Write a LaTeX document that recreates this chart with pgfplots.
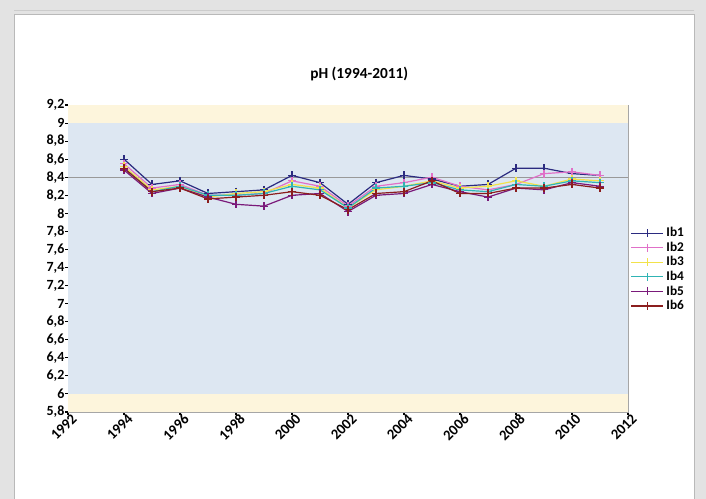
\documentclass[border=0pt]{standalone}
\usepackage{pgfplots}
\pgfplotsset{compat=1.18}
\usepackage{fontspec}
\setmainfont{Carlito}
\definecolor{bgblue}{HTML}{DDE7F2}
\definecolor{bandyel}{HTML}{FDF5DC}
\definecolor{cA}{HTML}{2B2B80}
\definecolor{cB}{HTML}{E070C8}
\definecolor{cC}{HTML}{F2E24A}
\definecolor{cD}{HTML}{30B4B4}
\definecolor{cE}{HTML}{7A1A7A}
\definecolor{cF}{HTML}{8B1E1E}
\begin{document}
\begin{tikzpicture}[x=0.75pt,y=0.75pt]
\path[use as bounding box] (0,0) rectangle (706,499);
\fill[gray!22] (0,0) rectangle (706,499);
\fill[white] (14,0) rectangle (694,485);
\draw[gray!55,line width=0.6pt] (14,0) -- (14,485) -- (694,485) -- (694,0);
\draw[gray!40,line width=0.5pt] (14,489) -- (694,489);
\begin{axis}[
  at={(51pt,65.25pt)}, anchor=origin,
  scale only axis, width=420pt, height=230.25pt,
  xmin=1992, xmax=2012, ymin=5.8, ymax=9.2,
  xtick={1992,1994,...,2012},
  ytick={5.8,6,6.2,6.4,6.6,6.8,7,7.2,7.4,7.6,7.8,8,8.2,8.4,8.6,8.8,9,9.2},
  xtick pos=bottom, ytick pos=left,
  x tick label style={rotate=45, anchor=north east, font=\bfseries\fontsize{11}{11}\selectfont, inner sep=0.5pt, xshift=3pt},
  y tick label style={font=\bfseries\fontsize{10.5}{10}\selectfont, inner sep=0.5pt},
  /pgf/number format/.cd, use comma, assume math mode=true, 1000 sep={},
  /pgfplots/.cd,
  xticklabel={\pgfmathprintnumber[fixed,precision=0,1000 sep={}]{\tick}},
  tick align=outside, major tick length=2pt,
  tick style={black, line width=0.8pt},
  axis line style={gray!70, line width=0.7pt},
  axis background/.style={fill=white},
  title={pH (1994-2011)},
  title style={at={(axis description cs:0.52,1)}, anchor=center, yshift=17pt, font=\bfseries\fontsize{11.5}{12}\selectfont},
  legend style={at={(1.002,0.615)}, anchor=north west, draw=none, fill=none,
    font=\bfseries\fontsize{10}{10}\selectfont, row sep=-1.6pt, inner sep=1pt},
  legend cell align=left,
  legend image code/.code={\draw[mark repeat=2,mark phase=2] plot coordinates {(0cm,0cm) (0.42cm,0cm) (0.84cm,0cm)};},
  every axis plot/.append style={line width=0.9pt, mark=+, mark size=3pt},
  clip=false,
]
\addplot[fill=bandyel, draw=none, mark=none, forget plot] coordinates {(1992,5.8) (2012,5.8) (2012,9.2) (1992,9.2)} -- cycle;
\addplot[fill=bgblue, draw=none, mark=none, forget plot] coordinates {(1992,6.0) (2012,6.0) (2012,9.0) (1992,9.0)} -- cycle;
\addplot[gray!80, line width=0.6pt, mark=none, forget plot] coordinates {(1992,8.4) (2012,8.4)};
\addplot[cA] coordinates {(1994,8.60) (1995,8.32) (1996,8.36) (1997,8.22) (1998,8.24) (1999,8.26) (2000,8.42) (2001,8.34) (2002,8.10) (2003,8.34) (2004,8.42) (2005,8.38) (2006,8.30) (2007,8.32) (2008,8.50) (2009,8.50) (2010,8.44) (2011,8.42)};
\addplot[cB] coordinates {(1994,8.55) (1995,8.28) (1996,8.32) (1997,8.20) (1998,8.20) (1999,8.22) (2000,8.36) (2001,8.30) (2002,8.08) (2003,8.30) (2004,8.34) (2005,8.40) (2006,8.30) (2007,8.26) (2008,8.32) (2009,8.44) (2010,8.46) (2011,8.42)};
\addplot[cC] coordinates {(1994,8.52) (1995,8.26) (1996,8.30) (1997,8.18) (1998,8.22) (1999,8.24) (2000,8.32) (2001,8.28) (2002,8.06) (2003,8.26) (2004,8.30) (2005,8.36) (2006,8.28) (2007,8.30) (2008,8.36) (2009,8.30) (2010,8.38) (2011,8.36)};
\addplot[cD] coordinates {(1994,8.50) (1995,8.24) (1996,8.30) (1997,8.20) (1998,8.20) (1999,8.22) (2000,8.30) (2001,8.26) (2002,8.06) (2003,8.28) (2004,8.30) (2005,8.34) (2006,8.26) (2007,8.24) (2008,8.32) (2009,8.30) (2010,8.36) (2011,8.34)};
\addplot[cE] coordinates {(1994,8.48) (1995,8.22) (1996,8.28) (1997,8.18) (1998,8.10) (1999,8.08) (2000,8.20) (2001,8.22) (2002,8.02) (2003,8.20) (2004,8.22) (2005,8.32) (2006,8.24) (2007,8.18) (2008,8.28) (2009,8.26) (2010,8.34) (2011,8.30)};
\addplot[cF] coordinates {(1994,8.50) (1995,8.24) (1996,8.28) (1997,8.16) (1998,8.18) (1999,8.20) (2000,8.24) (2001,8.20) (2002,8.04) (2003,8.22) (2004,8.24) (2005,8.36) (2006,8.22) (2007,8.22) (2008,8.28) (2009,8.28) (2010,8.32) (2011,8.28)};
\legend{Ib1,Ib2,Ib3,Ib4,Ib5,Ib6}
\end{axis}
\end{tikzpicture}
\end{document}
